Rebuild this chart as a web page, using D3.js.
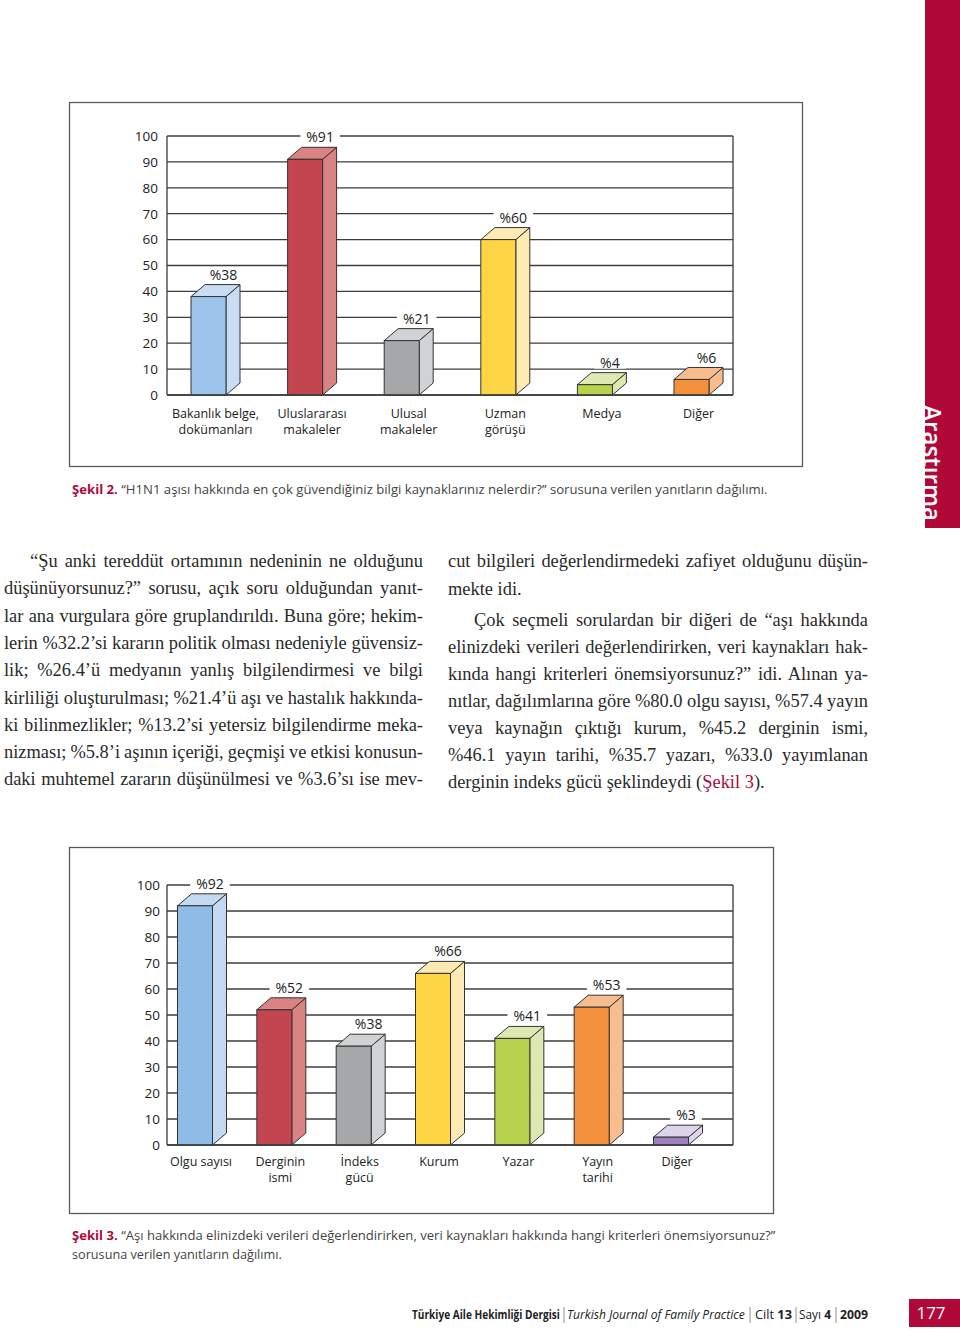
<!DOCTYPE html>
<html>
<head>
<meta charset="utf-8">
<script src="https://cdn.jsdelivr.net/npm/d3@7"></script>
<style>
  html, body { margin: 0; padding: 0; background: #fff; }
  svg { display: block; }
</style>
</head>
<body>
<svg id="page" width="960" height="1332"></svg>
<script>
// ---------------- DATA ----------------
const fig2Categories = ["Bakanlık belge,\ndokümanları", "Uluslararası\nmakaleler", "Ulusal\nmakaleler", "Uzman\ngörüşü", "Medya", "Diğer"];
const fig2Values = [38, 91, 21, 60, 4, 6];
const fig3Categories = ["Olgu sayısı", "Derginin\nismi", "İndeks\ngücü", "Kurum", "Yazar", "Yayın\ntarihi", "Diğer"];
const fig3Values = [92, 52, 38, 66, 41, 53, 3];
const yTickValues = [0, 10, 20, 30, 40, 50, 60, 70, 80, 90, 100];

// styles (kept separate from data)
const fig2Front = ["#9cc3ea", "#c24550", "#a6a7a9", "#fdd545", "#b6d24c", "#f3913d"];
const fig2Light = ["#c8dcf3", "#d98383", "#d1d2d4", "#feebb3", "#dde9b3", "#f8bd8f"];
const fig3Front = ["#8fbce6", "#c24550", "#a6a7a9", "#fdd545", "#b6d24c", "#f3913d", "#9c80c0"];
const fig3Light = ["#c3d9f1", "#d98383", "#d1d2d4", "#feebb3", "#dde9b3", "#f8bd8f", "#ddd5eb"];

const leftColumn = [
  {t: "“Şu anki tereddüt ortamının nedeninin ne olduğunu", indent: true, justify: true},
  {t: "düşünüyorsunuz?” sorusu, açık soru olduğundan yanıt-", justify: true},
  {t: "lar ana vurgulara göre gruplandırıldı. Buna göre; hekim-", justify: true},
  {t: "lerin %32.2’si kararın politik olması nedeniyle güvensiz-", justify: true},
  {t: "lik; %26.4’ü medyanın yanlış bilgilendirmesi ve bilgi", justify: true},
  {t: "kirliliği oluşturulması; %21.4’ü aşı ve hastalık hakkında-", justify: true},
  {t: "ki bilinmezlikler; %13.2’si yetersiz bilgilendirme meka-", justify: true},
  {t: "nizması; %5.8’i aşının içeriği, geçmişi ve etkisi konusun-", justify: true},
  {t: "daki muhtemel zararın düşünülmesi ve %3.6’sı ise mev-", justify: true}
];
const rightColumn = [
  {t: "cut bilgileri değerlendirmedeki zafiyet olduğunu düşün-", justify: true},
  {t: "mekte idi.", justify: false},
  {t: "Çok seçmeli sorulardan bir diğeri de “aşı hakkında", indent: true, justify: true},
  {t: "elinizdeki verileri değerlendirirken, veri kaynakları hak-", justify: true},
  {t: "kında hangi kriterleri önemsiyorsunuz?” idi. Alınan ya-", justify: true},
  {t: "nıtlar, dağılımlarına göre %80.0 olgu sayısı, %57.4 yayın", justify: true},
  {t: "veya kaynağın çıktığı kurum, %45.2 derginin ismi,", justify: true},
  {t: "%46.1 yayın tarihi, %35.7 yazarı, %33.0 yayımlanan", justify: true},
  {t: "derginin indeks gücü şeklindeydi (", tail: "Şekil 3", end: ").", justify: false}
];

// ---------------- DRAW ----------------
const svg = d3.select("#page");
svg.append("rect").attr("width", 960).attr("height", 1332).attr("fill", "#fff");

const CRIMSON = "#b1083a";
const SANS = "'Open Sans', 'Noto Sans', sans-serif";
const SERIF = "'Liberation Serif', 'DejaVu Serif', serif";

function drawChart(opt) {
  const g = svg.append("g");
  g.append("rect").attr("x", opt.frame[0] + 0.5).attr("y", opt.frame[1] + 0.5)
    .attr("width", opt.frame[2]).attr("height", opt.frame[3])
    .attr("fill", "#fff").attr("stroke", "#5a5a5a").attr("stroke-width", 1.3);

  const y = d3.scaleLinear().domain([0, 100]).range(opt.yRange);
  const x = d3.scalePoint().domain(opt.categories).range(opt.xRange);
  const bw = 35, dx = 14, dy = 12;

  g.append("g").selectAll("line").data(yTickValues).join("line")
    .attr("x1", opt.plotX[0]).attr("x2", opt.plotX[1])
    .attr("y1", d => y(d)).attr("y2", d => y(d))
    .attr("stroke", "#3c3c3c").attr("stroke-width", 1.3);
  [opt.plotX[0], opt.plotX[1]].forEach(px => {
    g.append("line").attr("x1", px).attr("x2", px)
      .attr("y1", y(100)).attr("y2", y(0))
      .attr("stroke", "#3c3c3c").attr("stroke-width", 1.3);
  });
  g.append("g").selectAll("text").data(yTickValues).join("text")
    .attr("x", opt.tickX).attr("y", d => y(d)).attr("dy", "0.36em")
    .attr("text-anchor", "end").attr("font-family", SANS).attr("font-size", 13.5)
    .attr("fill", "#222").text(d => d);

  const data = opt.categories.map((c, i) => ({c, v: opt.values[i], i}));

  const bars = g.append("g").selectAll("g").data(data).join("g");
  bars.each(function(d) {
    const sel = d3.select(this);
    const x0 = x(d.c) - bw / 2, x1 = x0 + bw;
    const yb = y(0), yt = y(d.v);
    const stroke = "#333", sw = 1;
    sel.append("polygon")
      .attr("points", [[x1, yt], [x1 + dx, yt - dy], [x1 + dx, yb - dy], [x1, yb]].join(" "))
      .attr("fill", opt.light[d.i]).attr("stroke", stroke).attr("stroke-width", sw).attr("stroke-linejoin", "round");
    sel.append("polygon")
      .attr("points", [[x0, yt], [x0 + dx, yt - dy], [x1 + dx, yt - dy], [x1, yt]].join(" "))
      .attr("fill", opt.light[d.i]).attr("stroke", stroke).attr("stroke-width", sw).attr("stroke-linejoin", "round");
    sel.append("rect").attr("x", x0).attr("y", yt).attr("width", bw).attr("height", yb - yt)
      .attr("fill", opt.front[d.i]).attr("stroke", stroke).attr("stroke-width", sw);
  });

  g.append("line").attr("x1", opt.plotX[0]).attr("x2", opt.plotX[1])
    .attr("y1", y(0)).attr("y2", y(0)).attr("stroke", "#3c3c3c").attr("stroke-width", 1.3);

  const vl = g.append("g").selectAll("g").data(data).join("g");
  vl.each(function(d) {
    const sel = d3.select(this);
    const cx = x(d.c) + 15;
    const cy = y(d.v) - dy - 10;
    const t = sel.append("text").attr("x", cx).attr("y", cy).attr("dy", "0.36em")
      .attr("text-anchor", "middle").attr("font-family", SANS).attr("font-size", 14)
      .attr("fill", "#222").text("%" + d.v);
    const bb = t.node().getBBox();
    sel.insert("rect", "text").attr("x", bb.x - 6).attr("y", cy - 6)
      .attr("width", bb.width + 12).attr("height", 12).attr("fill", "#fff");
  });

  const cl = g.append("g");
  data.forEach(d => {
    d.c.split("\n").forEach((ln, k) => {
      cl.append("text")
        .attr("x", x(d.c) + opt.labelShift).attr("y", opt.labelY + k * 15.5)
        .attr("text-anchor", "middle").attr("font-family", SANS).attr("font-size", 12.5)
        .attr("fill", "#222").text(ln);
    });
  });
}

drawChart({
  frame: [69, 102, 733, 364],
  yRange: [395, 136],
  xRange: [208.5, 691.5],
  plotX: [167, 733],
  tickX: 158,
  categories: fig2Categories, values: fig2Values,
  front: fig2Front, light: fig2Light,
  labelY: 418, labelShift: 7
});

drawChart({
  frame: [69, 847, 704, 366],
  yRange: [1145, 885],
  xRange: [195, 671],
  plotX: [167, 733],
  tickX: 160,
  categories: fig3Categories, values: fig3Values,
  front: fig3Front, light: fig3Light,
  labelY: 1166, labelShift: 6
});

// condensed text helper: natural text scaled horizontally to target width
function condensed(x, yb, len, size, fill, parts) {
  const g = svg.append("g");
  const t = g.append("text").attr("x", 0).attr("y", 0).attr("font-family", SANS)
    .attr("font-size", size).attr("fill", fill);
  parts.forEach(p => {
    const s = t.append("tspan").text(p.t);
    if (p.b) s.attr("font-weight", 700);
    if (p.i) s.attr("font-style", "italic");
    if (p.c) s.attr("fill", p.c);
  });
  const w = t.node().getComputedTextLength();
  g.attr("transform", `translate(${x},${yb}) scale(${len / w},1)`);
}

// captions
condensed(72, 494, 696, 13, "#444", [{t: "Şekil 2.", b: true, c: CRIMSON}, {t: "  “H1N1 aşısı hakkında en çok güvendiğiniz bilgi kaynaklarınız nelerdir?”  sorusuna verilen yanıtların dağılımı."}]);
condensed(72, 1240, 704, 13, "#444", [{t: "Şekil 3.", b: true, c: CRIMSON}, {t: "  “Aşı hakkında elinizdeki verileri değerlendirirken, veri kaynakları hakkında hangi kriterleri önemsiyorsunuz?”"}]);
condensed(72, 1259, 210, 13, "#444", [{t: "sorusuna verilen yanıtların dağılımı."}]);

// body text
const bodyG = svg.append("g").attr("font-family", SERIF).attr("fill", "#2a2a2a");
const probe = bodyG.append("text").attr("font-size", 18).text("derginin indeks gücü şeklindeydi (Şekil 3).");
const fs = 18 * 317 / probe.node().getComputedTextLength();
probe.remove();

function column(lines, x0, width, baselines) {
  lines.forEach((ln, i) => {
    const xs = ln.indent ? x0 + 26 : x0;
    const w = ln.indent ? width - 26 : width;
    const t = bodyG.append("text").attr("x", xs).attr("y", baselines[i]).attr("font-size", fs);
    t.append("tspan").text(ln.t);
    if (ln.tail) {
      t.append("tspan").attr("fill", CRIMSON).text(ln.tail);
      t.append("tspan").text(ln.end);
    }
    if (ln.justify) {
      const len = t.node().getComputedTextLength();
      const n = (ln.t.match(/ /g) || []).length;
      if (n > 0) t.attr("word-spacing", (w - len) / n);
    }
  });
}
column(leftColumn, 4, 419, leftColumn.map((d, i) => 567 + i * 27.3));
column(rightColumn, 448, 420, [567, 594.5, 626, 653, 680, 707, 734, 761, 788]);

// side banner
svg.append("rect").attr("x", 925).attr("y", 0).attr("width", 35).attr("height", 528).attr("fill", CRIMSON);
svg.append("text").attr("transform", "translate(923,405) rotate(90)")
  .attr("font-family", SANS).attr("font-size", 26).attr("font-weight", 600)
  .attr("fill", "#fff").attr("textLength", 116).attr("lengthAdjust", "spacingAndGlyphs").text("Araştırma");

// footer
const footY = 1319;
condensed(412, footY, 148, 12.5, "#222", [{t: "Türkiye Aile Hekimliği Dergisi", b: true}]);
condensed(567, footY, 178, 12.5, "#222", [{t: "Turkish Journal of Family Practice", i: true}]);
condensed(755, footY, 37, 12.5, "#222", [{t: "Cilt "}, {t: "13", b: true}]);
condensed(799, footY, 32, 12.5, "#222", [{t: "Sayı "}, {t: "4", b: true}]);
condensed(840, footY, 28, 12.5, "#222", [{t: "2009", b: true}]);
[564, 750, 796, 836].forEach(sx => {
  svg.append("line").attr("x1", sx).attr("x2", sx).attr("y1", 1307).attr("y2", 1323)
    .attr("stroke", "#777").attr("stroke-width", 0.8);
});
svg.append("rect").attr("x", 909).attr("y", 1299).attr("width", 51).attr("height", 28).attr("fill", CRIMSON);
svg.append("text").attr("x", 931).attr("y", 1319).attr("text-anchor", "middle")
  .attr("font-family", SANS).attr("font-size", 17).attr("fill", "#fff").text("177");
</script>
</body>
</html>
